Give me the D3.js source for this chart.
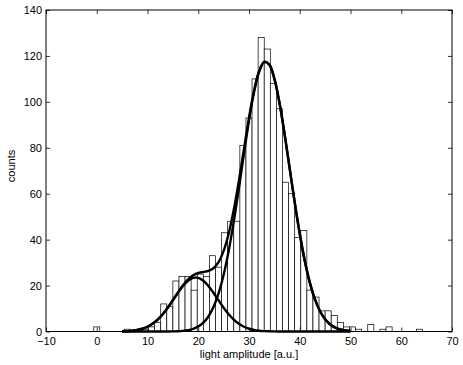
<!DOCTYPE html>
<html>
<head>
<meta charset="utf-8">
<script src="https://cdn.jsdelivr.net/npm/d3@7"></script>
<style>
  body { margin: 0; background: #fff; }
  svg text { font-family: "Liberation Sans", Arial, sans-serif; fill: #000; }
</style>
</head>
<body>
<div id="chart"></div>
<script>
// histogram bins (centres, width 1.2) and counts
var binWidth = 1.2;
var binCenters = [0, 6.0, 9.6, 10.8, 12.0, 13.2, 14.4, 15.6, 16.8, 18.0, 19.2, 20.4, 21.6, 22.8,
  24.0, 25.2, 26.4, 27.6, 28.8, 30.0, 31.2, 32.4, 33.6, 34.8, 36.0, 37.2, 38.4, 39.6, 40.8,
  42.0, 43.2, 44.4, 45.6, 46.8, 48.0, 49.2, 50.4, 51.6, 54.0, 56.4, 57.6, 63.6];
var binCounts = [2, 1, 1, 2, 4, 12, 11, 22, 24, 24, 18, 25, 24, 33,
  28, 43, 48, 48, 81, 93, 110, 128, 123, 108, 97, 65, 60, 41, 44,
  18, 15, 9, 9, 7, 4, 2, 2, 1, 3, 1, 2, 1];

// fitted curves, sampled every unit from 5 to 50
var curveX = [5, 6, 7, 8, 9, 10, 11, 12, 13, 14, 15, 16, 17, 18, 19, 20, 21, 22, 23, 24, 25, 26, 27,
  28, 29, 30, 31, 32, 33, 34, 35, 36, 37, 38, 39, 40, 41, 42, 43, 44, 45, 46, 47, 48, 49, 50];
var smallFit = [0.08, 0.17, 0.34, 0.66, 1.19, 2.05, 3.33, 5.13, 7.5, 10.37, 13.59, 16.87, 19.85, 22.11,
  23.34, 23.34, 22.11, 19.85, 16.87, 13.59, 10.37, 7.5, 5.13, 3.33, 2.05, 1.19, 0.66, 0.34, 0.17, 0.08,
  0.04, 0.02, 0, 0, 0, 0, 0, 0, 0, 0, 0, 0, 0, 0, 0, 0];
var largeFit = [0, 0, 0, 0, 0, 0, 0, 0, 0, 0.03, 0.06, 0.13, 0.29, 0.59, 1.15, 2.14, 3.83, 6.53, 10.65,
  16.59, 24.71, 35.18, 47.85, 62.22, 77.32, 91.83, 104.25, 113.09, 117.26, 116.2, 110.06, 99.63, 86.19,
  71.27, 56.32, 42.54, 30.7, 21.19, 13.97, 8.8, 5.3, 3.05, 1.68, 0.88, 0.44, 0.21];
var sumFit = [0.08, 0.17, 0.34, 0.66, 1.19, 2.05, 3.33, 5.13, 7.5, 10.4, 13.65, 17.0, 20.14, 22.7,
  24.49, 25.48, 25.94, 26.38, 27.52, 30.18, 35.08, 42.68, 52.98, 65.55, 79.37, 93.02, 104.91, 113.43,
  117.43, 116.28, 110.1, 99.65, 86.19, 71.27, 56.32, 42.54, 30.7, 21.19, 13.97, 8.8, 5.3, 3.05, 1.68,
  0.88, 0.44, 0.21];

var xTicks = [-10, 0, 10, 20, 30, 40, 50, 60, 70];
var yTicks = [0, 20, 40, 60, 80, 100, 120, 140];

var width = 463, height = 365;
var margin = {left: 46, right: 11, top: 10, bottom: 33.5};

var svg = d3.select("#chart").append("svg").attr("width", width).attr("height", height);

var x = d3.scaleLinear().domain([-10, 70]).range([margin.left, width - margin.right]);
var y = d3.scaleLinear().domain([0, 140]).range([height - margin.bottom, margin.top]);

// bars
svg.append("g").selectAll("rect").data(binCenters).enter().append("rect")
  .attr("x", function(d) { return x(d - binWidth / 2); })
  .attr("width", function(d) { return x(d + binWidth / 2) - x(d - binWidth / 2); })
  .attr("y", function(d, i) { return y(binCounts[i]); })
  .attr("height", function(d, i) { return y(0) - y(binCounts[i]); })
  .attr("fill", "#fff").attr("stroke", "#000").attr("stroke-width", 0.7);

// fitted curves
var line = d3.line().curve(d3.curveCatmullRom)
  .x(function(d, i) { return x(curveX[i]); });
[smallFit, largeFit, sumFit].forEach(function(series) {
  svg.append("path")
    .attr("d", line.y(function(d) { return y(d); })(series))
    .attr("fill", "none").attr("stroke", "#000").attr("stroke-width", 2.4)
    .attr("stroke-linejoin", "round");
});

// axes, MATLAB-style box with inward ticks
function styleAxis(g) {
  g.selectAll(".domain").remove();
  g.selectAll("line").attr("stroke", "#000").attr("stroke-width", 0.8);
  g.selectAll("text").attr("font-size", "11px").attr("fill", "#000");
}
svg.append("g").attr("transform", "translate(0," + y(0) + ")")
  .call(d3.axisBottom(x).tickValues(xTicks).tickSize(-4).tickPadding(6)).call(styleAxis);
svg.append("g").attr("transform", "translate(0," + y(140) + ")")
  .call(d3.axisTop(x).tickValues(xTicks).tickSize(-4).tickFormat("")).call(styleAxis);
svg.append("g").attr("transform", "translate(" + x(-10) + ",0)")
  .call(d3.axisLeft(y).tickValues(yTicks).tickSize(-4).tickPadding(4)).call(styleAxis);
svg.append("g").attr("transform", "translate(" + x(70) + ",0)")
  .call(d3.axisRight(y).tickValues(yTicks).tickSize(-4).tickFormat("")).call(styleAxis);

svg.append("rect")
  .attr("x", x(-10)).attr("y", y(140))
  .attr("width", x(70) - x(-10)).attr("height", y(0) - y(140))
  .attr("fill", "none").attr("stroke", "#000").attr("stroke-width", 1);

svg.append("text").attr("x", (x(-10) + x(70)) / 2).attr("y", 358)
  .attr("text-anchor", "middle").attr("font-size", "11px").text("light amplitude [a.u.]");
svg.append("text").attr("transform", "translate(15,166) rotate(-90)")
  .attr("text-anchor", "middle").attr("font-size", "11px").text("counts");
</script>
</body>
</html>
